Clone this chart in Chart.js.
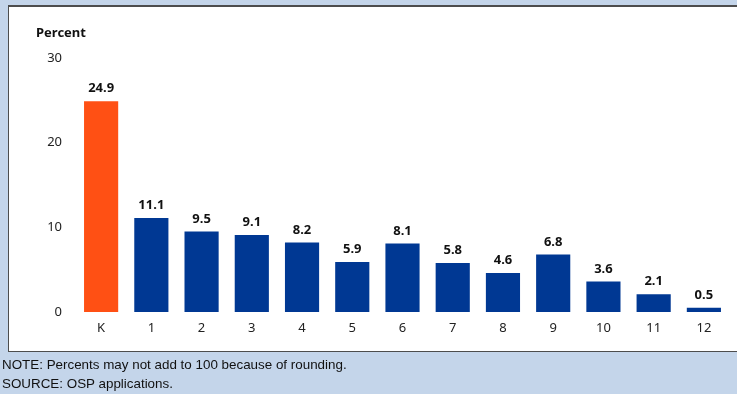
<!DOCTYPE html>
<html>
<head>
<meta charset="utf-8">
<script src="https://cdn.jsdelivr.net/npm/chart.js@4"></script>
<style>
  html, body { margin: 0; padding: 0; }
  body { width: 737px; height: 394px; background: #c4d5ea; position: relative; overflow: hidden; }
  .box { position: absolute; left: 8px; top: 5px; width: 728px; height: 344px; background: #fff;
         border: 1px solid #4d4d4d; border-top-width: 2px; border-right: none; }
  #wrap { position: absolute; left: 0; top: 0; width: 737px; height: 394px; }
  .note { position: absolute; left: 2px; font: 13.4px "Liberation Sans", Arial, sans-serif; color: #111; }
</style>
</head>
<body>
<div class="box"></div>
<div id="wrap"><canvas id="chart"></canvas></div>
<div class="note" style="top:357px">NOTE: Percents may not add to 100 because of rounding.</div>
<div class="note" style="top:376px">SOURCE: OSP applications.</div>
<script>
const grades = ["K", "1", "2", "3", "4", "5", "6", "7", "8", "9", "10", "11", "12"];
const percents = [24.9, 11.1, 9.5, 9.1, 8.2, 5.9, 8.1, 5.8, 4.6, 6.8, 3.6, 2.1, 0.5];
const yTicks = [0, 10, 20, 30];

const ORANGE = "#ff5014";
const BLUE = "#003893";
const FONT = "'Noto Sans', 'Open Sans', sans-serif";

// value above each bar plus the "Percent" heading
const barLabels = {
  id: "barLabels",
  afterDatasetsDraw(chart) {
    const ctx = chart.ctx;
    const meta = chart.getDatasetMeta(0);
    ctx.save();
    ctx.fillStyle = "#111";
    ctx.font = "bold 13px " + FONT;
    ctx.textAlign = "center";
    ctx.textBaseline = "bottom";
    meta.data.forEach((bar, i) => {
      ctx.fillText(percents[i].toFixed(1), bar.x, bar.y - 6);
    });
    ctx.textAlign = "left";
    ctx.textBaseline = "middle";
    ctx.fillText("Percent", 36, 33);
    ctx.restore();
  }
};

new Chart(document.getElementById("chart"), {
  type: "bar",
  data: {
    labels: grades,
    datasets: [{
      data: percents,
      backgroundColor: grades.map((g, i) => i === 0 ? ORANGE : BLUE),
      borderWidth: 0,
      barPercentage: 0.68,
      categoryPercentage: 1
    }]
  },
  options: {
    responsive: true,
    maintainAspectRatio: false,
    animation: false,
    layout: { padding: { left: 0, right: 8, top: 58, bottom: 0 } },
    plugins: { legend: { display: false }, tooltip: { enabled: false } },
    scales: {
      x: {
        grid: { display: false, drawTicks: false },
        border: { display: false },
        ticks: { color: "#222", font: { family: FONT, size: 13 }, padding: 8, maxRotation: 0 },
        afterFit(scale) { scale.height = 82; }
      },
      y: {
        min: 0,
        max: 30,
        afterBuildTicks(scale) { scale.ticks = yTicks.map(v => ({ value: v })); },
        grid: { display: false, drawTicks: false },
        border: { display: false },
        ticks: { color: "#222", font: { family: FONT, size: 13 }, padding: 14 },
        afterFit(scale) { scale.width = 76; }
      }
    }
  },
  plugins: [barLabels]
});
</script>
</body>
</html>
